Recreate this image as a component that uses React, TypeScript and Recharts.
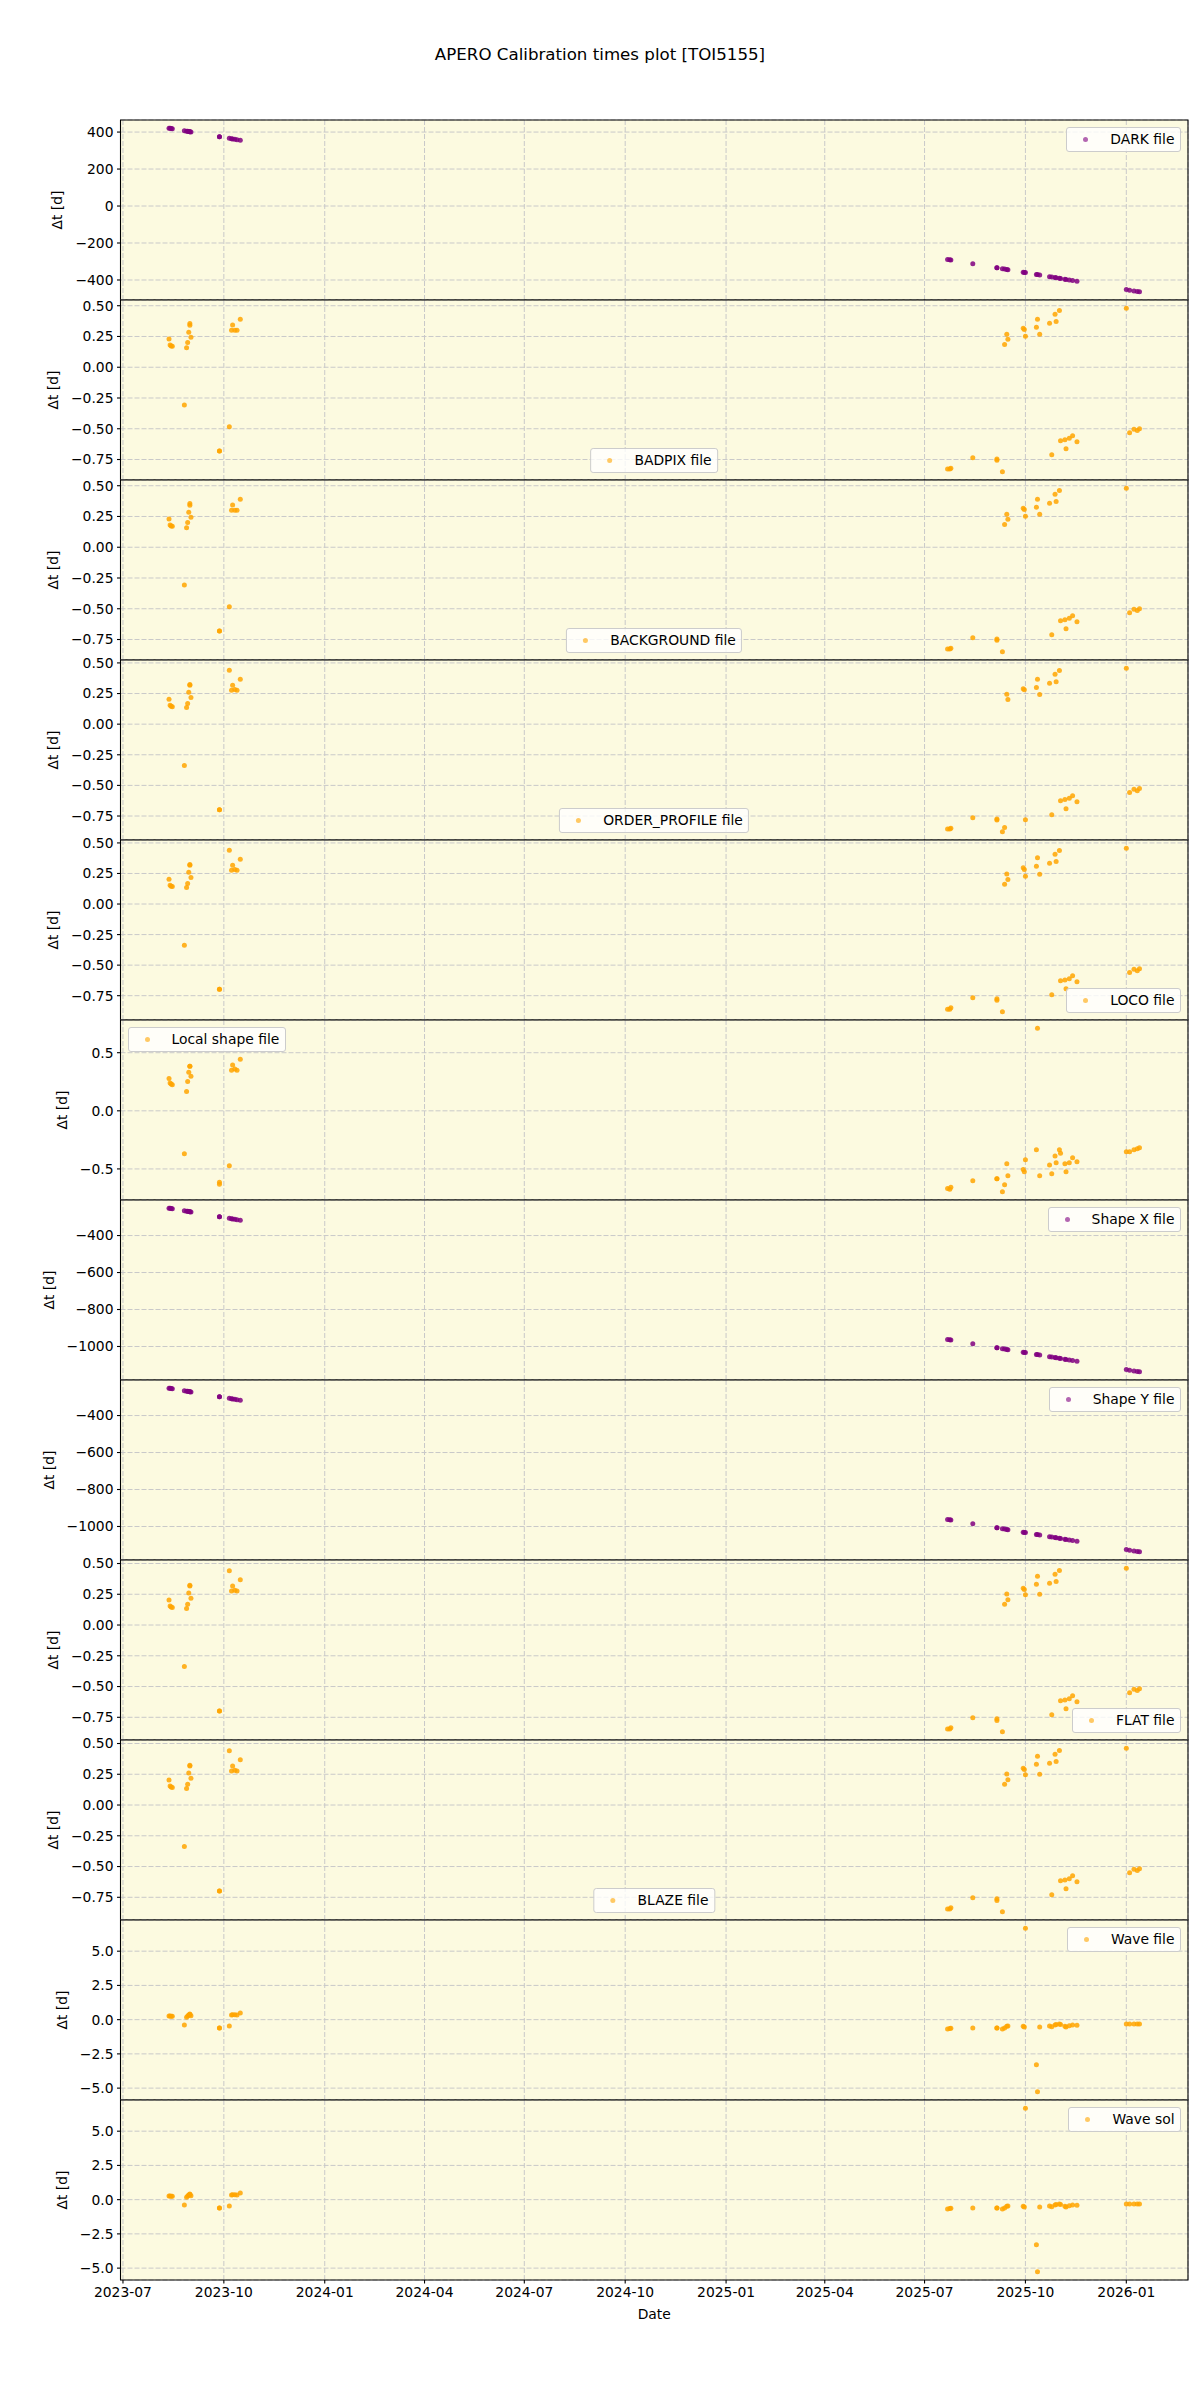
import React from 'react';
import { ScatterChart, Scatter, XAxis, YAxis, CartesianGrid, ReferenceArea } from 'recharts';

const FONT = '"DejaVu Sans", "Liberation Sans", sans-serif';

// Observation nights of the two campaigns (one entry per point)
const earlyNights = [
  '2023-08-12', '2023-08-13', '2023-08-14', '2023-08-15', '2023-08-26', '2023-08-28', '2023-08-29',
  '2023-08-30', '2023-08-31', '2023-08-31', '2023-09-01', '2023-09-27', '2023-09-27', '2023-10-06',
  '2023-10-08', '2023-10-09', '2023-10-11', '2023-10-13', '2023-10-16',
];
const lateNights = [
  '2025-07-22', '2025-07-24', '2025-07-25', '2025-08-14', '2025-09-05', '2025-09-05', '2025-09-10',
  '2025-09-12', '2025-09-14', '2025-09-15', '2025-09-29', '2025-09-30', '2025-10-01', '2025-10-11',
  '2025-10-12', '2025-10-14', '2025-10-23', '2025-10-25', '2025-10-28', '2025-10-29', '2025-11-01',
  '2025-11-02', '2025-11-06', '2025-11-07', '2025-11-10', '2025-11-13', '2025-11-17', '2026-01-01',
  '2026-01-04', '2026-01-08', '2026-01-11', '2026-01-13',
];

// Δt [d] of the calibration file used for each night
const darkEarly = [421, 420, 419, 418, 407, 405, 404, 403, 402, 402, 401, 375, 375, 366, 364, 363, 361, 359, 356];
const darkLate = [
  -289, -291, -292, -312, -334, -334, -339, -341, -343, -344, -358, -359, -360, -370, -371, -373,
  -382, -384, -387, -388, -391, -392, -396, -397, -400, -403, -407, -452, -455, -459, -462, -464,
];

const badpixEarly = [0.23, 0.181, 0.172, 0.17, -0.306, 0.159, 0.202, 0.284, 0.355, 0.341, 0.243, -0.681, -0.681, -0.483, 0.3, 0.344, 0.3, 0.3, 0.39];
const badpixLate = [
  -0.828, -0.828, -0.82, -0.736, -0.745, -0.755, -0.85, 0.184, 0.268, 0.227, 0.316, 0.306, 0.251, 0.325, 0.39, 0.268,
  0.357, -0.711, 0.431, 0.371, 0.461, -0.597, -0.589, -0.662, -0.577, -0.556, -0.605, 0.48, -0.532, -0.504, -0.515, -0.499,
];

const backgroundEarly = [0.23, 0.181, 0.172, 0.17, -0.306, 0.159, 0.202, 0.284, 0.355, 0.341, 0.243, -0.681, -0.681, -0.483, 0.3, 0.344, 0.3, 0.3, 0.39];
const backgroundLate = [
  -0.828, -0.828, -0.82, -0.736, -0.745, -0.755, -0.85, 0.184, 0.268, 0.227, 0.316, 0.306, 0.251, 0.325, 0.39, 0.268,
  0.357, -0.711, 0.431, 0.371, 0.461, -0.597, -0.589, -0.662, -0.577, -0.556, -0.605, 0.48, -0.532, -0.504, -0.515, -0.499,
];

const orderEarly = [0.203, 0.154, 0.146, 0.143, -0.338, 0.135, 0.168, 0.261, 0.324, 0.318, 0.217, -0.698, -0.698, 0.441, 0.277, 0.318, 0.283, 0.277, 0.367];
const orderLate = [
  -0.857, -0.857, -0.849, -0.764, -0.775, -0.783, -0.879, -0.843, 0.244, 0.201, 0.29, 0.28, -0.78, 0.3, 0.367, 0.242,
  0.334, -0.739, 0.408, 0.346, 0.438, -0.625, -0.616, -0.69, -0.605, -0.584, -0.633, 0.457, -0.559, -0.531, -0.543, -0.526,
];

const locoEarly = [0.203, 0.154, 0.146, 0.143, -0.338, 0.135, 0.168, 0.261, 0.324, 0.318, 0.217, -0.698, -0.698, 0.441, 0.277, 0.318, 0.283, 0.277, 0.367];
const locoLate = [
  -0.86, -0.86, -0.849, -0.767, -0.775, -0.788, -0.882, 0.161, 0.246, 0.2, 0.296, 0.282, 0.227, 0.309, 0.378, 0.243,
  0.333, -0.742, 0.407, 0.347, 0.438, -0.627, -0.621, -0.693, -0.611, -0.586, -0.635, 0.457, -0.561, -0.534, -0.545, -0.529,
];

const localEarly = [0.279, 0.239, 0.23, 0.225, -0.369, 0.167, 0.253, 0.331, 0.383, 0.383, 0.297, -0.614, -0.631, -0.473, 0.348, 0.395, 0.36, 0.348, 0.443];
const localLate = [
  -0.668, -0.674, -0.657, -0.602, -0.585, -0.585, -0.697, -0.637, -0.455, -0.559, -0.504, -0.525, -0.421, -0.334, 0.711, -0.559,
  -0.467, -0.542, -0.389, -0.447, -0.334, -0.366, -0.455, -0.525, -0.447, -0.404, -0.438, -0.352, -0.352, -0.334, -0.326, -0.317,
];

const shapeXEarly = [-252, -253, -254, -255, -266, -268, -269, -270, -271, -271, -272, -298, -298, -307, -309, -310, -312, -314, -317];
const shapeXLate = [
  -962, -964, -965, -985, -1007, -1007, -1012, -1014, -1016, -1017, -1031, -1032, -1033, -1043, -1044, -1046,
  -1055, -1057, -1060, -1061, -1064, -1065, -1069, -1070, -1073, -1076, -1080, -1125, -1128, -1132, -1135, -1137,
];

const shapeYEarly = [-252, -253, -254, -255, -266, -268, -269, -270, -271, -271, -272, -298, -298, -307, -309, -310, -312, -314, -317];
const shapeYLate = [
  -962, -964, -965, -985, -1007, -1007, -1012, -1014, -1016, -1017, -1031, -1032, -1033, -1043, -1044, -1046,
  -1055, -1057, -1060, -1061, -1064, -1065, -1069, -1070, -1073, -1076, -1080, -1125, -1128, -1132, -1135, -1137,
];

const flatEarly = [0.203, 0.154, 0.146, 0.143, -0.338, 0.135, 0.168, 0.261, 0.324, 0.318, 0.217, -0.698, -0.698, 0.441, 0.277, 0.318, 0.283, 0.277, 0.367];
const flatLate = [
  -0.846, -0.846, -0.835, -0.754, -0.762, -0.775, -0.868, 0.168, 0.253, 0.206, 0.299, 0.288, 0.247, 0.331, 0.396, 0.25,
  0.339, -0.729, 0.413, 0.353, 0.443, -0.615, -0.609, -0.68, -0.599, -0.574, -0.623, 0.462, -0.55, -0.522, -0.533, -0.517,
];

const blazeEarly = [0.203, 0.154, 0.146, 0.143, -0.338, 0.135, 0.168, 0.261, 0.324, 0.318, 0.217, -0.698, -0.698, 0.441, 0.277, 0.318, 0.283, 0.277, 0.367];
const blazeLate = [
  -0.846, -0.846, -0.835, -0.754, -0.762, -0.775, -0.868, 0.168, 0.253, 0.206, 0.299, 0.288, 0.247, 0.331, 0.396, 0.25,
  0.339, -0.729, 0.413, 0.353, 0.443, -0.615, -0.609, -0.68, -0.599, -0.574, -0.623, 0.462, -0.55, -0.522, -0.533, -0.517,
];

const waveEarly = [0.27, 0.26, 0.25, 0.24, -0.39, 0.17, 0.27, 0.34, 0.41, 0.38, 0.29, -0.61, -0.61, -0.46, 0.34, 0.36, 0.35, 0.34, 0.49];
const waveLate = [
  -0.68, -0.65, -0.63, -0.61, -0.61, -0.61, -0.68, -0.61, -0.49, -0.46, -0.49, -0.53, 6.68, -3.3, -5.27, -0.53,
  -0.46, -0.51, -0.39, -0.36, -0.32, -0.36, -0.49, -0.53, -0.44, -0.39, -0.41, -0.32, -0.32, -0.32, -0.32, -0.32,
];

const waveSolEarly = [0.27, 0.26, 0.25, 0.24, -0.39, 0.17, 0.27, 0.34, 0.41, 0.38, 0.29, -0.61, -0.61, -0.46, 0.34, 0.36, 0.35, 0.34, 0.49];
const waveSolLate = [
  -0.68, -0.65, -0.63, -0.61, -0.61, -0.61, -0.68, -0.61, -0.49, -0.46, -0.49, -0.53, 6.68, -3.3, -5.27, -0.53,
  -0.46, -0.51, -0.39, -0.36, -0.32, -0.36, -0.49, -0.53, -0.44, -0.39, -0.41, -0.32, -0.32, -0.32, -0.32, -0.32,
];

// Axis ticks
const xTickDates = [
  '2023-07-01', '2023-10-01', '2024-01-01', '2024-04-01', '2024-07-01', '2024-10-01',
  '2025-01-01', '2025-04-01', '2025-07-01', '2025-10-01', '2026-01-01',
];
const xTickLabels = ['2023-07', '2023-10', '2024-01', '2024-04', '2024-07', '2024-10', '2025-01', '2025-04', '2025-07', '2025-10', '2026-01'];
const darkTicks = [-400, -200, 0, 200, 400];
const fracTicks = [-0.75, -0.5, -0.25, 0, 0.25, 0.5];
const localTicks = [-0.5, 0, 0.5];
const shapeTicks = [-1000, -800, -600, -400];
const waveTicks = [-5, -2.5, 0, 2.5, 5];

const TITLE = 'APERO Calibration times plot [TOI5155]';
const Y_LABEL = 'Δt [d]';
const X_LABEL = 'Date';

// Figure geometry
const FIG_W = 1200;
const FIG_H = 2400;
const PLOT_TOP = 120.3;
const PLOT_LEFT = 120.5;
const PLOT_RIGHT = 1188;
const PANEL_H = 180;
const X_AXIS_H = 80;

const PURPLE = '#800080';
const ORANGE = '#ffa500';
const BG = '#fcfae0';
const GRID = '#c9c9c9';
const FS = 13.89;

type LegendLoc = 'ur' | 'lr' | 'ul' | 'lc';
interface PanelCfg {
  name: string;
  color: string;
  early: number[];
  late: number[];
  ticks: number[];
  decimals: number;
  legend: LegendLoc;
  labelX: number;
}

const panels: PanelCfg[] = [
  { name: 'DARK file', color: PURPLE, early: darkEarly, late: darkLate, ticks: darkTicks, decimals: 0, legend: 'ur', labelX: 57 },
  { name: 'BADPIX file', color: ORANGE, early: badpixEarly, late: badpixLate, ticks: fracTicks, decimals: 2, legend: 'lc', labelX: 53 },
  { name: 'BACKGROUND file', color: ORANGE, early: backgroundEarly, late: backgroundLate, ticks: fracTicks, decimals: 2, legend: 'lc', labelX: 53 },
  { name: 'ORDER_PROFILE file', color: ORANGE, early: orderEarly, late: orderLate, ticks: fracTicks, decimals: 2, legend: 'lc', labelX: 53 },
  { name: 'LOCO file', color: ORANGE, early: locoEarly, late: locoLate, ticks: fracTicks, decimals: 2, legend: 'lr', labelX: 53 },
  { name: 'Local shape file', color: ORANGE, early: localEarly, late: localLate, ticks: localTicks, decimals: 1, legend: 'ul', labelX: 61.5 },
  { name: 'Shape X file', color: PURPLE, early: shapeXEarly, late: shapeXLate, ticks: shapeTicks, decimals: 0, legend: 'ur', labelX: 48.5 },
  { name: 'Shape Y file', color: PURPLE, early: shapeYEarly, late: shapeYLate, ticks: shapeTicks, decimals: 0, legend: 'ur', labelX: 48.5 },
  { name: 'FLAT file', color: ORANGE, early: flatEarly, late: flatLate, ticks: fracTicks, decimals: 2, legend: 'lr', labelX: 53 },
  { name: 'BLAZE file', color: ORANGE, early: blazeEarly, late: blazeLate, ticks: fracTicks, decimals: 2, legend: 'lc', labelX: 53 },
  { name: 'Wave file', color: ORANGE, early: waveEarly, late: waveLate, ticks: waveTicks, decimals: 1, legend: 'ur', labelX: 61.5 },
  { name: 'Wave sol', color: ORANGE, early: waveSolEarly, late: waveSolLate, ticks: waveTicks, decimals: 1, legend: 'ur', labelX: 61.5 },
];

const toTime = (d: string) => Date.parse(`${d}T00:00:00Z`);
const xTicks = xTickDates.map(toTime);

// shared x range: data span plus 5 % on each side
const allTimes = [...earlyNights, ...lateNights].map(toTime);
const tMin = Math.min(...allTimes);
const tMax = Math.max(...allTimes);
const tPad = 0.05 * (tMax - tMin);
const xDomain: [number, number] = [tMin - tPad, tMax + tPad];

const fmt = (v: number, d: number) => {
  const s = Math.abs(v).toFixed(d);
  return v < 0 ? `\u2212${s}` : s;
};

const xTickText = (t: number) => {
  const i = xTicks.indexOf(t);
  return i >= 0 ? xTickLabels[i] : '';
};

function LegendBox({ label, color, loc }: { label: string; color: string; loc: LegendLoc }) {
  const pos: React.CSSProperties = {};
  const pad = 7;
  if (loc === 'ur') { pos.right = FIG_W - PLOT_RIGHT + pad; pos.top = pad; }
  if (loc === 'lr') { pos.right = FIG_W - PLOT_RIGHT + pad; pos.top = PANEL_H - pad - 25; }
  if (loc === 'ul') { pos.left = PLOT_LEFT + pad; pos.top = pad; }
  if (loc === 'lc') { pos.left = (PLOT_LEFT + PLOT_RIGHT) / 2; pos.top = PANEL_H - pad - 25; pos.transform = 'translateX(-50%)'; }
  return (
    <div
      style={{
        position: 'absolute',
        ...pos,
        height: 25,
        boxSizing: 'border-box',
        border: '1px solid #cccccc',
        borderRadius: 3,
        background: 'rgba(255,255,255,0.8)',
        display: 'flex',
        alignItems: 'center',
        paddingRight: 5.5,
        fontFamily: FONT,
        fontSize: FS,
        color: '#000',
        whiteSpace: 'nowrap',
      }}
    >
      <span style={{ display: 'inline-block', position: 'relative', width: 43, height: 5 }}>
        <span
          style={{
            position: 'absolute',
            left: 16,
            top: 0,
            width: 5,
            height: 5,
            borderRadius: '50%',
            background: color,
            opacity: 0.6,
          }}
        />
      </span>
      <span style={{ lineHeight: '1' }}>{label}</span>
    </div>
  );
}

function Panel({ cfg, index, isLast }: { cfg: PanelCfg; index: number; isLast: boolean }) {
  const points = [
    ...earlyNights.map((d, i) => ({ t: toTime(d), v: cfg.early[i] })),
    ...lateNights.map((d, i) => ({ t: toTime(d), v: cfg.late[i] })),
  ];
  const vals = points.map((p) => p.v);
  const lo = Math.min(...vals);
  const hi = Math.max(...vals);
  const pad = 0.05 * (hi - lo);
  const yDomain: [number, number] = [lo - pad, hi + pad];
  const h = isLast ? PANEL_H + X_AXIS_H : PANEL_H;

  const yLabel = (props: any) => {
    const vb = props?.viewBox ?? {};
    const cy = (typeof vb.y === 'number' ? vb.y : 0) + (typeof vb.height === 'number' ? vb.height : PANEL_H) / 2;
    const x = cfg.labelX;
    return (
      <text
        x={x}
        y={cy}
        transform={`rotate(-90 ${x} ${cy})`}
        textAnchor="middle"
        dominantBaseline="central"
        fontFamily={FONT}
        fontSize={FS}
        fill="#000"
      >
        {Y_LABEL}
      </text>
    );
  };

  const xLabel = (props: any) => {
    const vb = props?.viewBox ?? {};
    const x0 = typeof vb.x === 'number' ? vb.x : PLOT_LEFT;
    const w = typeof vb.width === 'number' ? vb.width : PLOT_RIGHT - PLOT_LEFT;
    const y0 = typeof vb.y === 'number' ? vb.y : PANEL_H;
    return (
      <text x={x0 + w / 2} y={y0 + 39.4} textAnchor="middle" fontFamily={FONT} fontSize={FS} fill="#000">
        {X_LABEL}
      </text>
    );
  };

  return (
    <div style={{ position: 'absolute', left: 0, top: PLOT_TOP + index * PANEL_H, width: FIG_W, height: h }}>
      <ScatterChart
        width={FIG_W}
        height={h}
        margin={{ top: 0, right: FIG_W - PLOT_RIGHT, bottom: 0, left: 0 }}
        style={{ overflow: 'visible' }}
      >
        <CartesianGrid fill={BG} fillOpacity={1} stroke={GRID} strokeDasharray="5 2" strokeWidth={1} />
        <XAxis
          type="number"
          dataKey="t"
          scale="linear"
          domain={xDomain}
          ticks={xTicks}
          allowDataOverflow
          interval={0}
          hide={!isLast}
          height={isLast ? X_AXIS_H : 0}
          axisLine={false}
          tickLine={{ stroke: '#000', strokeWidth: 1.1 }}
          tickSize={3.5}
          tickMargin={3.5}
          tick={{ fill: '#000', fontSize: FS, fontFamily: FONT }}
          tickFormatter={xTickText}
          label={isLast ? xLabel : undefined}
        />
        <YAxis
          type="number"
          dataKey="v"
          scale="linear"
          domain={yDomain}
          ticks={cfg.ticks}
          allowDataOverflow
          interval={0}
          width={PLOT_LEFT}
          axisLine={false}
          tickLine={{ stroke: '#000', strokeWidth: 1.1 }}
          tickSize={3.5}
          tickMargin={3.5}
          tick={{ fill: '#000', fontSize: FS, fontFamily: FONT }}
          tickFormatter={(v: number) => fmt(v, cfg.decimals)}
          label={yLabel}
        />
        <Scatter
          data={points}
          dataKey="v"
          isAnimationActive={false}
          shape={(p: any) => <circle cx={p.cx} cy={p.cy} r={2.5} fill={cfg.color} fillOpacity={0.85} />}
        />
        <ReferenceArea
          x1={xDomain[0]}
          x2={xDomain[1]}
          y1={yDomain[0]}
          y2={yDomain[1]}
          fill="none"
          fillOpacity={0}
          stroke="#000"
          strokeWidth={1.1}
          ifOverflow="visible"
        />
      </ScatterChart>
      <LegendBox label={cfg.name} color={cfg.color} loc={cfg.legend} />
    </div>
  );
}

export default function App() {
  return (
    <div style={{ position: 'absolute', left: 0, top: 0, width: FIG_W, height: FIG_H, background: '#fff', overflow: 'hidden' }}>
      <style>{`.recharts-surface { overflow: visible; }`}</style>
      <div
        style={{
          position: 'absolute',
          left: 0,
          top: 45,
          width: FIG_W,
          textAlign: 'center',
          fontFamily: FONT,
          fontSize: 16.67,
          lineHeight: '20px',
          color: '#000',
        }}
      >
        {TITLE}
      </div>
      {panels.map((cfg, i) => (
        <Panel key={cfg.name} cfg={cfg} index={i} isLast={i === panels.length - 1} />
      ))}
    </div>
  );
}
